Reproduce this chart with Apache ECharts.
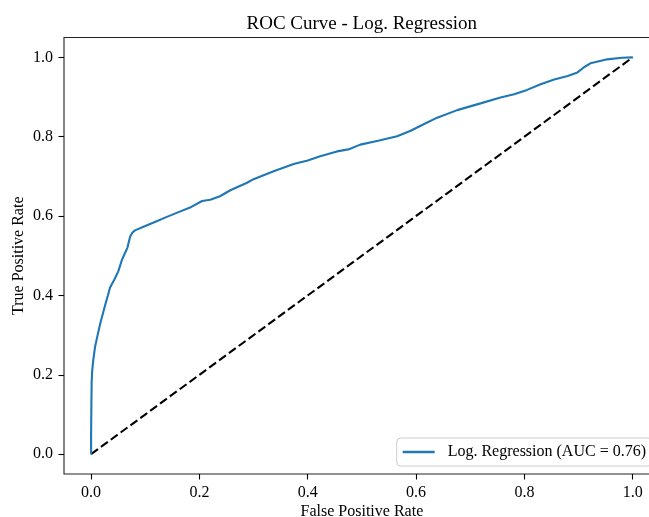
<!DOCTYPE html>
<html>
<head>
<meta charset="utf-8">
<script src="https://cdn.jsdelivr.net/npm/echarts@6/dist/echarts.min.js"></script>
<style>
html,body{margin:0;padding:0;background:#fff;}
#chart{width:649px;height:517px;}
</style>
</head>
<body>
<div id="chart"></div>
<script>
const titleText = 'ROC Curve - Log. Regression';
const xName = 'False Positive Rate';
const yName = 'True Positive Rate';
const seriesName = 'Log. Regression (AUC = 0.76)';
const tickMin = 0;
const tickMax = 1;
const tickStep = 0.2;
const xTicks = [0, 0.2, 0.4, 0.6, 0.8, 1.0];
const yTicks = [0, 0.2, 0.4, 0.6, 0.8, 1.0];
const fpr = [0, 0, 0.0005, 0.001, 0.002, 0.004, 0.0074, 0.012, 0.017, 0.026, 0.031, 0.035, 0.043, 0.05, 0.057, 0.062, 0.067, 0.072, 0.076, 0.081, 0.10, 0.121, 0.14, 0.158, 0.185, 0.205, 0.22, 0.238, 0.257, 0.288, 0.30, 0.337, 0.374, 0.40, 0.423, 0.454, 0.475, 0.497, 0.53, 0.565, 0.59, 0.615, 0.639, 0.676, 0.719, 0.756, 0.781, 0.805, 0.83, 0.855, 0.88, 0.898, 0.91, 0.922, 0.953, 0.98, 1.0];
const tpr = [0, 0.05, 0.12, 0.18, 0.21, 0.237, 0.271, 0.30, 0.33, 0.376, 0.40, 0.42, 0.44, 0.46, 0.49, 0.505, 0.52, 0.548, 0.558, 0.564, 0.575, 0.587, 0.598, 0.608, 0.623, 0.638, 0.641, 0.65, 0.665, 0.684, 0.693, 0.713, 0.731, 0.74, 0.751, 0.763, 0.768, 0.78, 0.79, 0.801, 0.815, 0.832, 0.848, 0.867, 0.884, 0.899, 0.907, 0.918, 0.932, 0.944, 0.953, 0.962, 0.975, 0.985, 0.995, 0.999, 1.0];
const diagX = [0, 1];
const diagY = [0, 1];

const FONT = '"Liberation Serif", "Times New Roman", serif';
const chart = echarts.init(document.getElementById('chart'), null, {renderer: 'canvas'});
const rocData = fpr.map((x, i) => [x, tpr[i]]);
const diagData = diagX.map((x, i) => [x, diagY[i]]);
const AX_MIN = -0.05, AX_MAX = 1.05;

const OUT = {left: 64, top: 37.5, right: -10.8, bottom: 43};
const padX = 27.1, padY = 19.85;
const TICK_LEN = 5.5;
const WIDE_BOUNDS = {left: -300, top: -300, right: -300, bottom: -300};

const labelStyle = {fontFamily: FONT, fontSize: 16, color: '#000', formatter: v => v.toFixed(1)};
const tickStyle = {show: true, inside: false, length: TICK_LEN, lineStyle: {color: '#000', width: 1.1}};

chart.setOption({
  animation: false,
  backgroundColor: '#ffffff',
  graphic: [{
    id: 'title',
    type: 'text',
    x: 361.8,
    y: 23.6,
    style: {
      text: titleText,
      font: '19px ' + FONT,
      fill: '#000',
      align: 'center',
      verticalAlign: 'middle'
    }
  }],
  grid: [
    {
      left: OUT.left, top: OUT.top, right: OUT.right, bottom: OUT.bottom,
      outerBounds: WIDE_BOUNDS,
      show: true, borderColor: '#222', borderWidth: 1.1, backgroundColor: 'transparent'
    },
    {
      left: OUT.left + padX, top: OUT.top + padY, right: OUT.right + padX, bottom: OUT.bottom + padY,
      outerBounds: WIDE_BOUNDS,
      show: false
    }
  ],
  legend: {
    data: [seriesName],
    right: -3,
    bottom: 51,
    orient: 'horizontal',
    icon: 'rect',
    itemWidth: 32,
    itemHeight: 2.4,
    padding: [6, 6, 6, 6],
    backgroundColor: 'rgba(255,255,255,0.8)',
    borderColor: '#cccccc',
    borderWidth: 1,
    borderRadius: 4,
    textStyle: {
      fontFamily: FONT,
      fontSize: 16,
      color: '#000',
      padding: [0, 0, 0, 8]
    }
  },
  xAxis: [
    {gridIndex: 0, type: 'value', min: AX_MIN, max: AX_MAX, show: false},
    {
      gridIndex: 1,
      type: 'value',
      position: 'bottom',
      offset: padY,
      min: tickMin, max: tickMax, interval: tickStep,
      name: xName,
      nameLocation: 'middle',
      nameGap: 30,
      nameMoveOverlap: false,
      nameTextStyle: {fontFamily: FONT, fontSize: 16, color: '#000'},
      splitLine: {show: false},
      axisLine: {show: false, onZero: false},
      axisTick: tickStyle,
      axisLabel: Object.assign({margin: 11, showMinLabel: true, showMaxLabel: true}, labelStyle)
    }
  ],
  yAxis: [
    {gridIndex: 0, type: 'value', min: AX_MIN, max: AX_MAX, show: false},
    {
      gridIndex: 1,
      type: 'value',
      position: 'left',
      offset: padX,
      min: tickMin, max: tickMax, interval: tickStep,
      name: yName,
      nameLocation: 'middle',
      nameGap: 37,
      nameMoveOverlap: false,
      nameTextStyle: {fontFamily: FONT, fontSize: 16, color: '#000'},
      splitLine: {show: false},
      axisLine: {show: false, onZero: false},
      axisTick: tickStyle,
      axisLabel: Object.assign({margin: 11, showMinLabel: true, showMaxLabel: true}, labelStyle)
    }
  ],
  series: [
    {
      name: seriesName,
      type: 'line',
      xAxisIndex: 1,
      yAxisIndex: 1,
      data: rocData,
      showSymbol: false,
      symbol: 'none',
      clip: false,
      lineStyle: {color: '#1f77b4', width: 2.1},
      itemStyle: {color: '#1f77b4'},
      z: 3
    },
    {
      name: 'diag',
      type: 'line',
      xAxisIndex: 1,
      yAxisIndex: 1,
      data: diagData,
      showSymbol: false,
      symbol: 'none',
      clip: false,
      lineStyle: {color: '#000', width: 2.1, type: [8.5, 3.7]},
      z: 2
    }
  ]
});
</script>
</body>
</html>
